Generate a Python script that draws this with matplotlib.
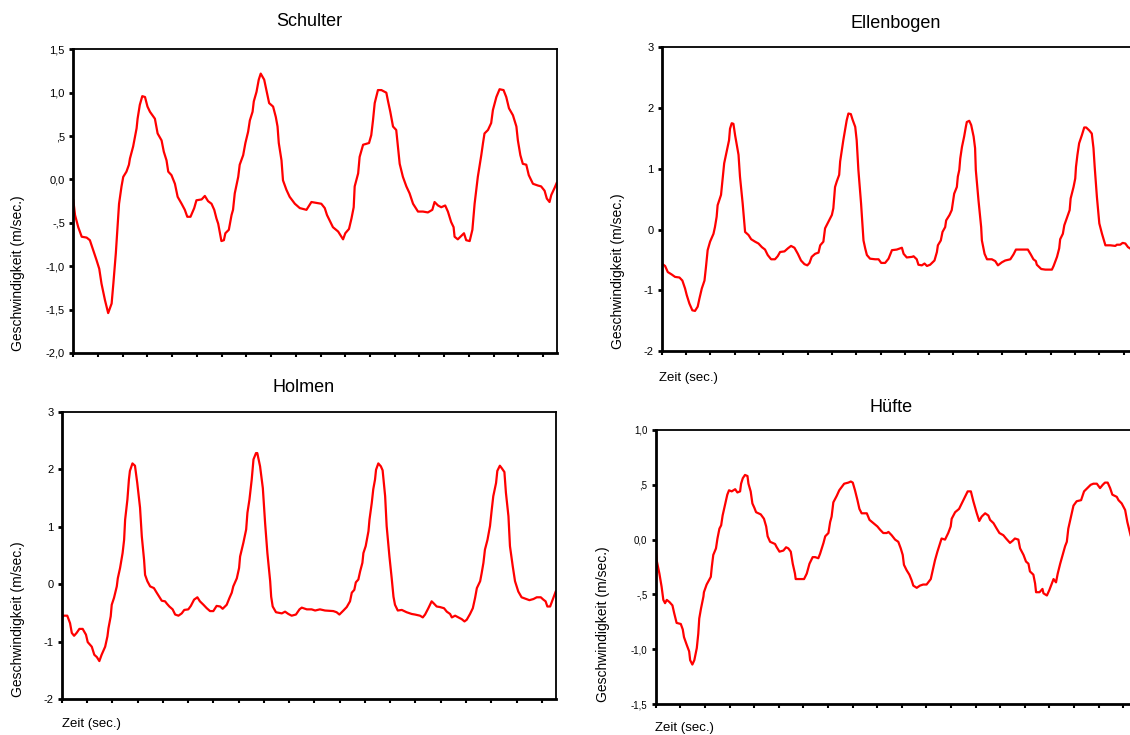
import numpy as np
import matplotlib.pyplot as plt

plt.rcParams['font.family'] = ['Liberation Sans', 'DejaVu Sans']

# Zeitachse in Tick-Einheiten (20 Ticks ohne Beschriftung)
x_ticks = list(range(20))

# Schulter
schulter_t = [0, 0.07, 0.2, 0.34, 0.54, 0.67, 0.81, 0.94, 1.05, 1.14, 1.28, 1.41, 1.55, 1.62, 1.72, 1.85,
              1.95, 2.02, 2.15, 2.25, 2.29, 2.42, 2.56, 2.6, 2.69, 2.79, 2.9, 3.0, 3.1, 3.3, 3.41, 3.57,
              3.66, 3.77, 3.84, 3.97, 4.11, 4.22, 4.38, 4.51, 4.61, 4.74, 4.89, 4.98, 5.19, 5.32, 5.45,
              5.59, 5.7, 5.79, 5.86, 5.93, 5.99, 6.09, 6.15, 6.29, 6.4, 6.46, 6.53, 6.67, 6.73, 6.87,
              6.96, 7.07, 7.14, 7.25, 7.3, 7.41, 7.5, 7.58, 7.72, 7.81, 7.92, 8.08, 8.19, 8.26, 8.31,
              8.42, 8.48, 8.62, 8.75, 8.96, 9.16, 9.43, 9.63, 9.83, 10.03, 10.17, 10.26, 10.4, 10.5,
              10.71, 10.84, 10.91, 11.0, 11.15, 11.25, 11.34, 11.38, 11.52, 11.58, 11.72, 11.96, 12.05,
              12.12, 12.19, 12.32, 12.46, 12.66, 12.73, 12.82, 12.93, 13.06, 13.13, 13.2, 13.33, 13.47,
              13.6, 13.74, 13.94, 14.14, 14.34, 14.52, 14.61, 14.75, 14.88, 15.04, 15.15, 15.28, 15.38,
              15.42, 15.55, 15.69, 15.8, 15.89, 16.03, 16.14, 16.23, 16.36, 16.5, 16.57, 16.63, 16.77,
              16.9, 16.97, 17.11, 17.24, 17.4, 17.51, 17.62, 17.78, 17.92, 17.98, 18.08, 18.18, 18.32,
              18.42, 18.59, 18.79, 18.92, 19.06, 19.15, 19.26, 19.33, 19.46, 19.55]
schulter_v = [-0.24, -0.41, -0.55, -0.66, -0.67, -0.70, -0.82, -0.93, -1.03, -1.20, -1.39, -1.54, -1.43,
              -1.20, -0.85, -0.28, -0.08, 0.03, 0.09, 0.17, 0.24, 0.38, 0.59, 0.70, 0.86, 0.96, 0.95, 0.84,
              0.78, 0.70, 0.53, 0.45, 0.32, 0.22, 0.09, 0.05, -0.05, -0.20, -0.28, -0.35, -0.43, -0.43,
              -0.33, -0.24, -0.23, -0.19, -0.25, -0.28, -0.35, -0.45, -0.51, -0.62, -0.71, -0.70, -0.62,
              -0.58, -0.41, -0.35, -0.16, 0.03, 0.17, 0.28, 0.42, 0.55, 0.68, 0.78, 0.90, 1.01, 1.15, 1.22,
              1.15, 1.03, 0.88, 0.84, 0.72, 0.61, 0.42, 0.22, -0.01, -0.12, -0.20, -0.28, -0.33, -0.35,
              -0.26, -0.27, -0.28, -0.33, -0.41, -0.49, -0.55, -0.60, -0.66, -0.69, -0.62, -0.57, -0.45,
              -0.32, -0.08, 0.07, 0.26, 0.40, 0.42, 0.51, 0.68, 0.88, 1.03, 1.03, 1.0, 0.90, 0.78, 0.61,
              0.57, 0.38, 0.18, 0.03, -0.08, -0.16, -0.28, -0.37, -0.37, -0.38, -0.35, -0.26, -0.30, -0.32,
              -0.30, -0.37, -0.49, -0.55, -0.66, -0.69, -0.65, -0.62, -0.70, -0.71, -0.58, -0.28, 0.03,
              0.28, 0.42, 0.53, 0.57, 0.65, 0.80, 0.95, 1.04, 1.03, 0.95, 0.82, 0.74, 0.61, 0.45, 0.28,
              0.18, 0.17, 0.05, -0.05, -0.07, -0.08, -0.13, -0.22, -0.26, -0.18, -0.10, -0.04]

# Ellenbogen
ellenbogen_t = [0, 0.14, 0.25, 0.41, 0.55, 0.73, 0.85, 0.96, 1.03, 1.14, 1.26, 1.37, 1.48, 1.55, 1.65,
                1.76, 1.82, 1.89, 1.99, 2.13, 2.19, 2.26, 2.3, 2.44, 2.5, 2.57, 2.67, 2.77, 2.81, 2.88,
                2.95, 3.02, 3.16, 3.22, 3.33, 3.43, 3.57, 3.68, 3.84, 3.98, 4.12, 4.25, 4.36, 4.5, 4.66,
                4.77, 4.87, 5.05, 5.19, 5.32, 5.46, 5.6, 5.73, 5.87, 5.99, 6.08, 6.17, 6.31, 6.45, 6.52,
                6.65, 6.72, 6.86, 7.0, 7.06, 7.13, 7.2, 7.3, 7.34, 7.41, 7.47, 7.54, 7.61, 7.68, 7.78,
                7.85, 7.96, 8.02, 8.09, 8.2, 8.3, 8.37, 8.44, 8.57, 8.78, 8.92, 9.03, 9.19, 9.33, 9.47,
                9.67, 9.88, 9.95, 10.08, 10.3, 10.36, 10.49, 10.56, 10.7, 10.81, 10.91, 11.04, 11.22,
                11.32, 11.36, 11.48, 11.55, 11.66, 11.7, 11.84, 11.93, 11.98, 12.03, 12.14, 12.18, 12.24,
                12.28, 12.35, 12.44, 12.51, 12.55, 12.65, 12.73, 12.83, 12.89, 12.92, 13.03, 13.14, 13.17,
                13.28, 13.38, 13.58, 13.72, 13.83, 13.99, 14.13, 14.34, 14.47, 14.57, 14.75, 15.06, 15.18,
                15.29, 15.39, 15.43, 15.61, 15.78, 16.05, 16.12, 16.26, 16.35, 16.39, 16.5, 16.56, 16.71,
                16.78, 16.82, 16.94, 17.01, 17.04, 17.1, 17.17, 17.28, 17.38, 17.46, 17.59, 17.69, 17.76,
                17.81, 17.9, 18.0, 18.11, 18.25, 18.45, 18.66, 18.72, 18.86, 18.96, 19.07, 19.18, 19.3]
ellenbogen_v = [-0.56, -0.60, -0.70, -0.74, -0.78, -0.79, -0.84, -0.97, -1.08, -1.22, -1.33, -1.34, -1.27,
                -1.14, -0.97, -0.84, -0.62, -0.34, -0.20, -0.07, 0.04, 0.21, 0.40, 0.57, 0.81, 1.09, 1.28,
                1.47, 1.66, 1.75, 1.74, 1.55, 1.23, 0.87, 0.43, -0.04, -0.09, -0.16, -0.20, -0.23, -0.29,
                -0.33, -0.42, -0.49, -0.49, -0.44, -0.37, -0.36, -0.31, -0.27, -0.30, -0.40, -0.51, -0.57,
                -0.59, -0.55, -0.45, -0.40, -0.38, -0.26, -0.20, 0.02, 0.13, 0.24, 0.35, 0.70, 0.79, 0.90,
                1.12, 1.31, 1.47, 1.64, 1.80, 1.91, 1.90, 1.81, 1.69, 1.47, 0.98, 0.43, -0.18, -0.31, -0.42,
                -0.48, -0.49, -0.49, -0.55, -0.55, -0.48, -0.34, -0.33, -0.30, -0.40, -0.46, -0.45, -0.44,
                -0.49, -0.58, -0.59, -0.56, -0.60, -0.58, -0.51, -0.37, -0.26, -0.18, -0.04, 0.04, 0.15,
                0.24, 0.32, 0.46, 0.59, 0.70, 0.87, 0.98, 1.17, 1.36, 1.53, 1.69, 1.77, 1.79, 1.72, 1.53,
                1.34, 0.98, 0.48, 0.04, -0.18, -0.40, -0.49, -0.49, -0.52, -0.59, -0.54, -0.51, -0.49, -0.41,
                -0.33, -0.33, -0.33, -0.41, -0.49, -0.52, -0.58, -0.65, -0.66, -0.66, -0.60, -0.45, -0.31,
                -0.16, -0.07, 0.07, 0.24, 0.32, 0.51, 0.70, 0.84, 1.03, 1.23, 1.42, 1.55, 1.68, 1.68, 1.63,
                1.58, 1.34, 1.03, 0.54, 0.10, -0.07, -0.26, -0.26, -0.27, -0.25, -0.25, -0.22, -0.23, -0.29,
                -0.32]

# Holmen
holmen_t = [0, 0.07, 0.22, 0.33, 0.4, 0.49, 0.59, 0.7, 0.83, 0.96, 1.03, 1.19, 1.29, 1.39, 1.49, 1.58,
            1.72, 1.81, 1.85, 1.94, 1.98, 2.07, 2.18, 2.22, 2.31, 2.41, 2.47, 2.51, 2.6, 2.66, 2.7, 2.8,
            2.9, 2.99, 3.1, 3.17, 3.26, 3.3, 3.39, 3.5, 3.65, 3.76, 3.89, 3.96, 4.09, 4.16, 4.26, 4.39,
            4.49, 4.62, 4.75, 4.85, 5.01, 5.11, 5.24, 5.37, 5.47, 5.61, 5.74, 5.87, 6.0, 6.13, 6.27, 6.37,
            6.53, 6.64, 6.73, 6.79, 6.93, 7.02, 7.06, 7.19, 7.3, 7.35, 7.43, 7.52, 7.59, 7.69, 7.74, 7.85,
            7.96, 8.05, 8.14, 8.25, 8.29, 8.35, 8.48, 8.71, 8.84, 8.97, 9.1, 9.27, 9.41, 9.5, 9.63, 9.7,
            9.89, 10.03, 10.22, 10.42, 10.75, 10.88, 10.99, 11.15, 11.28, 11.41, 11.48, 11.58, 11.64,
            11.74, 11.81, 11.9, 11.94, 12.03, 12.14, 12.18, 12.27, 12.33, 12.4, 12.44, 12.53, 12.63, 12.7,
            12.8, 12.86, 12.97, 13.06, 13.13, 13.19, 13.3, 13.46, 13.65, 13.85, 13.98, 14.18, 14.29,
            14.38, 14.51, 14.64, 14.71, 14.84, 14.97, 15.13, 15.24, 15.37, 15.44, 15.57, 15.7, 15.83,
            15.94, 16.03, 16.16, 16.27, 16.36, 16.43, 16.56, 16.62, 16.69, 16.75, 16.85, 16.95, 17.02,
            17.08, 17.19, 17.24, 17.34, 17.41, 17.52, 17.58, 17.68, 17.74, 17.85, 17.94, 18.07, 18.2,
            18.38, 18.51, 18.67, 18.8, 18.96, 19.06, 19.15, 19.22, 19.33, 19.43, 19.55]
holmen_v = [-0.59, -0.55, -0.55, -0.68, -0.85, -0.90, -0.85, -0.78, -0.78, -0.88, -1.01, -1.09, -1.23,
            -1.27, -1.34, -1.23, -1.09, -0.91, -0.77, -0.56, -0.36, -0.24, -0.04, 0.10, 0.28, 0.54, 0.77,
            1.12, 1.47, 1.82, 1.97, 2.10, 2.06, 1.76, 1.33, 0.83, 0.42, 0.16, 0.05, -0.04, -0.07, -0.15,
            -0.24, -0.29, -0.30, -0.34, -0.39, -0.44, -0.53, -0.55, -0.51, -0.45, -0.44, -0.38, -0.27,
            -0.23, -0.30, -0.36, -0.42, -0.47, -0.47, -0.38, -0.39, -0.43, -0.36, -0.24, -0.15, -0.04,
            0.10, 0.28, 0.48, 0.72, 0.95, 1.24, 1.47, 1.82, 2.17, 2.28, 2.28, 2.05, 1.67, 1.06, 0.54, 0.05,
            -0.22, -0.39, -0.49, -0.51, -0.48, -0.52, -0.55, -0.53, -0.44, -0.41, -0.43, -0.44, -0.44,
            -0.46, -0.44, -0.46, -0.47, -0.49, -0.53, -0.46, -0.40, -0.30, -0.15, -0.10, 0.03, 0.08, 0.22,
            0.37, 0.54, 0.66, 0.92, 1.12, 1.41, 1.65, 1.82, 1.99, 2.10, 2.05, 1.98, 1.53, 1.01, 0.48, 0.10,
            -0.22, -0.36, -0.46, -0.45, -0.49, -0.52, -0.53, -0.55, -0.58, -0.53, -0.42, -0.30, -0.33,
            -0.39, -0.40, -0.42, -0.48, -0.52, -0.58, -0.55, -0.58, -0.61, -0.65, -0.62, -0.52, -0.42,
            -0.24, -0.07, 0.05, 0.19, 0.37, 0.60, 0.77, 1.01, 1.30, 1.53, 1.76, 1.97, 2.06, 2.02, 1.95,
            1.59, 1.18, 0.66, 0.31, 0.05, -0.13, -0.23, -0.26, -0.28, -0.26, -0.23, -0.23, -0.27, -0.30,
            -0.39, -0.39, -0.27, -0.13]

# Hüfte
huefte_t = [0, 0.04, 0.15, 0.24, 0.31, 0.38, 0.45, 0.56, 0.68, 0.75, 0.85, 1.02, 1.1, 1.15, 1.26, 1.36,
            1.4, 1.49, 1.57, 1.67, 1.73, 1.77, 1.84, 1.94, 1.96, 2.07, 2.24, 2.28, 2.34, 2.45, 2.51, 2.59,
            2.66, 2.72, 2.82, 2.91, 2.98, 3.09, 3.23, 3.32, 3.43, 3.47, 3.54, 3.63, 3.73, 3.77, 3.86,
            3.93, 4.01, 4.08, 4.27, 4.4, 4.49, 4.55, 4.65, 4.85, 4.92, 5.03, 5.19, 5.3, 5.39, 5.49, 5.57,
            5.66, 5.69, 5.87, 6.03, 6.14, 6.25, 6.38, 6.48, 6.61, 6.68, 6.75, 6.82, 6.89, 7.02, 7.09,
            7.15, 7.22, 7.36, 7.46, 7.56, 7.66, 7.83, 7.93, 8.01, 8.1, 8.2, 8.28, 8.37, 8.58, 8.69, 8.85,
            9.01, 9.12, 9.25, 9.39, 9.46, 9.59, 9.73, 9.86, 9.96, 10.04, 10.09, 10.2, 10.31, 10.4, 10.47,
            10.61, 10.74, 10.87, 11.01, 11.18, 11.28, 11.35, 11.45, 11.55, 11.62, 11.76, 11.89, 11.99,
            12.03, 12.17, 12.33, 12.44, 12.57, 12.68, 12.81, 12.91, 13.05, 13.15, 13.25, 13.39, 13.52,
            13.59, 13.73, 13.86, 13.97, 14.13, 14.24, 14.4, 14.51, 14.6, 14.74, 14.81, 14.95, 15.05,
            15.15, 15.21, 15.35, 15.42, 15.46, 15.6, 15.72, 15.76, 15.9, 16.0, 16.1, 16.17, 16.27, 16.34,
            16.44, 16.54, 16.64, 16.71, 16.77, 16.88, 16.98, 17.11, 17.29, 17.41, 17.59, 17.68, 17.79,
            17.93, 18.06, 18.17, 18.26, 18.37, 18.47, 18.56, 18.74, 18.81, 18.94, 19.08, 19.17, 19.3]
huefte_v = [-0.09, -0.19, -0.31, -0.43, -0.55, -0.58, -0.55, -0.57, -0.60, -0.67, -0.76, -0.77, -0.82,
            -0.89, -0.96, -1.02, -1.10, -1.14, -1.10, -0.99, -0.86, -0.72, -0.63, -0.52, -0.48, -0.41,
            -0.34, -0.25, -0.14, -0.08, 0.01, 0.10, 0.13, 0.22, 0.32, 0.41, 0.45, 0.44, 0.46, 0.43, 0.44,
            0.51, 0.56, 0.59, 0.58, 0.51, 0.44, 0.33, 0.29, 0.25, 0.23, 0.19, 0.12, 0.03, -0.02, -0.04,
            -0.07, -0.11, -0.10, -0.07, -0.08, -0.11, -0.22, -0.31, -0.36, -0.36, -0.36, -0.31, -0.22,
            -0.16, -0.16, -0.17, -0.13, -0.08, -0.03, 0.03, 0.06, 0.16, 0.21, 0.34, 0.40, 0.45, 0.48,
            0.51, 0.52, 0.53, 0.52, 0.45, 0.36, 0.28, 0.24, 0.24, 0.18, 0.15, 0.12, 0.09, 0.06, 0.06,
            0.07, 0.04, 0.00, -0.02, -0.08, -0.14, -0.23, -0.28, -0.32, -0.37, -0.42, -0.44, -0.42, -0.41,
            -0.41, -0.36, -0.26, -0.19, -0.11, -0.04, 0.01, 0.00, 0.06, 0.12, 0.19, 0.25, 0.28, 0.33,
            0.39, 0.44, 0.44, 0.35, 0.24, 0.17, 0.21, 0.24, 0.22, 0.18, 0.15, 0.10, 0.06, 0.04, 0.01,
            -0.03, -0.01, 0.01, 0.00, -0.08, -0.14, -0.20, -0.22, -0.29, -0.32, -0.40, -0.48, -0.48,
            -0.45, -0.49, -0.51, -0.46, -0.40, -0.36, -0.39, -0.31, -0.22, -0.14, -0.06, -0.02, 0.10,
            0.21, 0.31, 0.35, 0.36, 0.44, 0.48, 0.50, 0.51, 0.51, 0.47, 0.50, 0.52, 0.52, 0.47, 0.41,
            0.39, 0.36, 0.33, 0.27, 0.16, 0.04]

# Y-Achsen
y_ticks_schulter = [-2.0, -1.5, -1.0, -0.5, 0.0, 0.5, 1.0, 1.5]
y_labels_schulter = ['-2,0', '-1,5', '-1,0', '-,5', '0,0', ',5', '1,0', '1,5']
y_ticks_int = [-2, -1, 0, 1, 2, 3]
y_labels_int = ['-2', '-1', '0', '1', '2', '3']
y_ticks_huefte = [-1.5, -1.0, -0.5, 0.0, 0.5, 1.0]
y_labels_huefte = ['-1,5', '-1,0', '-,5', '0,0', ',5', '1,0']

W, H = 1130, 735
fig = plt.figure(figsize=(W / 100, H / 100), dpi=100)


def panel(box, t, v, yticks, ylabels, title, title_xy, ylab_x, zeit_xy=None, fs=8):
    l, r, top, bot = box
    ax = fig.add_axes([l / W, 1 - bot / H, (r - l) / W, (bot - top) / H])
    ax.plot(t, v, color='#ff0000', lw=1.6)
    ax.set_xlim(0, 19.55)
    ax.set_ylim(yticks[0], yticks[-1])
    ax.set_xticks(x_ticks)
    ax.set_xticklabels([])
    ax.set_yticks(yticks)
    ax.set_yticklabels(ylabels)
    ax.tick_params(axis='y', direction='out', length=3, width=2, labelsize=fs, pad=3)
    ax.tick_params(axis='x', direction='out', length=3, width=1.5)
    for s in ['left', 'bottom']:
        ax.spines[s].set_linewidth(2)
    for s in ['top', 'right']:
        ax.spines[s].set_linewidth(1.3)
    fig.text(title_xy[0] / W, 1 - title_xy[1] / H, title, ha='center', va='center', fontsize=13)
    fig.text(ylab_x / W, 1 - (bot - 2) / H, 'Geschwindigkeit (m/sec.)', rotation=90,
             ha='center', va='bottom', fontsize=10)
    if zeit_xy is not None:
        fig.text(zeit_xy[0] / W, 1 - zeit_xy[1] / H, 'Zeit (sec.)', ha='left', va='center', fontsize=9.5)
    return ax


panel((73.3, 556.7, 49.3, 353), schulter_t, schulter_v, y_ticks_schulter, y_labels_schulter,
      'Schulter', (309, 22), 18)
panel((661.7, 1137, 47.3, 351), ellenbogen_t, ellenbogen_v, y_ticks_int, y_labels_int,
      'Ellenbogen', (896, 23), 618, (659, 378))
panel((61.7, 555.7, 411.7, 699), holmen_t, holmen_v, y_ticks_int, y_labels_int,
      'Holmen', (304, 388), 18, (62, 724))
panel((655.7, 1136.7, 430, 704), huefte_t, huefte_v, y_ticks_huefte, y_labels_huefte,
      'Hüfte', (891, 408), 603, (655, 728), fs=7)

plt.savefig('out.png', dpi=100)
